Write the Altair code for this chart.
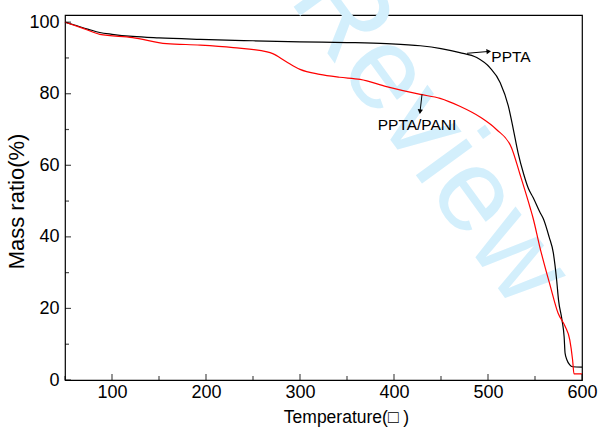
import altair as alt
import pandas as pd

# Thermogravimetric curves: temperature (°C) vs. remaining mass (%)
ppta_temp = [50, 60, 75, 87, 100, 122, 150, 194, 250, 300, 350, 392, 428, 450,
             470, 488, 502, 513, 521.6, 527, 532, 538, 543, 548, 555, 559, 565,
             569.5, 573, 575, 578.7, 581, 582, 584, 587, 590, 600]
ppta_mass = [100, 99.2, 98.0, 97.1, 96.6, 96.0, 95.6, 95.2, 94.8, 94.5, 94.3,
             94.0, 93.4, 92.6, 91.5, 90.1, 87.3, 83.1, 76.6, 70.0, 63.5, 57.5,
             53.5, 51.0, 47.0, 45.0, 40.0, 35.5, 28.0, 22.4, 16.8, 12.0, 7.5,
             5.6, 4.2, 3.7, 3.6]

pani_temp = [50, 70, 87, 122, 158, 194, 229, 265, 271, 285, 300, 321, 342, 364,
             392, 428, 449, 470, 491.5, 509, 525, 534, 545, 548, 555, 566, 574.5,
             582, 587, 590, 591.5, 600]
pani_mass = [100, 98.2, 96.6, 95.7, 94.0, 93.6, 92.9, 91.7, 91.2, 89.0, 86.8,
             85.4, 84.6, 84.0, 82.0, 79.8, 78.7, 76.5, 73.5, 70.0, 64.9, 57.5,
             48.0, 45.2, 37.3, 26.5, 18.7, 15.0, 11.2, 5.6, 1.7, 1.7]

# Axis tick positions
x_major = [100, 200, 300, 400, 500, 600]
x_minor = [50, 150, 250, 350, 450, 550]
y_major = [0, 20, 40, 60, 80, 100]
y_minor = [10, 30, 50, 70, 90]

# Curve labels with their arrows (start -> end, in data units)
label_text = ["PPTA", "PPTA/PANI"]
label_x = [503.5, 424.5]
label_y = [90.4, 71.2]
arrow_x = [477.7, 429.8]
arrow_y = [91.3, 79.8]
arrow_x2 = [500, 427.8]
arrow_y2 = [91.8, 75.2]
arrow_angle = [84, 186]

W, H = 517, 365
FONT = "Liberation Sans"

xs = alt.Scale(domain=[50, 600], nice=False, zero=False)
ys = alt.Scale(domain=[0, 102], nice=False, zero=False)

curves = pd.concat([
    pd.DataFrame({"t": ppta_temp, "m": ppta_mass, "s": "PPTA",
                  "o": range(len(ppta_temp))}),
    pd.DataFrame({"t": pani_temp, "m": pani_mass, "s": "PPTA/PANI",
                  "o": range(len(pani_temp))}),
])

x_axis = alt.Axis(values=x_major, format="d", ticks=False, domain=False,
                  grid=False, labelFontSize=18, labelFont=FONT,
                  labelColor="#000", labelPadding=3, labelFlush=False,
                  titleFontSize=17.5, titleFont=FONT, titleFontWeight="normal",
                  titleColor="#000", titlePadding=7, titleX=281,
                  titleAlign="center")
y_axis = alt.Axis(values=y_major, format="d", ticks=False, domain=False,
                  grid=False, labelFontSize=18, labelFont=FONT,
                  labelColor="#000", labelPadding=6, labelFlush=False,
                  titleFontSize=22, titleFont=FONT, titleFontWeight="normal",
                  titleColor="#000", titlePadding=0, titleY=186,
                  titleAlign="center")

watermark = alt.Chart(pd.DataFrame({"w": ["Review"]})).mark_text(
    font=FONT, fontSize=118, color="#d3effc", angle=54, align="center",
    baseline="middle"
).encode(x=alt.value(365), y=alt.value(120), text="w:N")

lines = alt.Chart(curves).mark_line(strokeWidth=1.2, interpolate="monotone").encode(
    x=alt.X("t:Q", scale=xs, axis=x_axis, title="Temperature(□ )"),
    y=alt.Y("m:Q", scale=ys, axis=y_axis, title="Mass ratio(%)"),
    color=alt.Color("s:N", scale=alt.Scale(domain=["PPTA", "PPTA/PANI"],
                                           range=["#000000", "#ff0000"]),
                    legend=None),
    order="o:Q",
    detail="s:N",
)

xt_major = alt.Chart(pd.DataFrame({"v": x_major})).mark_tick(
    color="#000", size=6, thickness=1.2, orient="vertical"
).encode(x=alt.X("v:Q", scale=xs), y=alt.value(H - 3))
xt_minor = alt.Chart(pd.DataFrame({"v": x_minor})).mark_tick(
    color="#000", size=4, thickness=1.2, orient="vertical"
).encode(x=alt.X("v:Q", scale=xs), y=alt.value(H - 2))
yt_major = alt.Chart(pd.DataFrame({"v": y_major})).mark_tick(
    color="#000", size=6, thickness=1.2, orient="horizontal"
).encode(y=alt.Y("v:Q", scale=ys), x=alt.value(3))
yt_minor = alt.Chart(pd.DataFrame({"v": y_minor})).mark_tick(
    color="#000", size=4, thickness=1.2, orient="horizontal"
).encode(y=alt.Y("v:Q", scale=ys), x=alt.value(2))

ann = pd.DataFrame({"text": label_text, "lx": label_x, "ly": label_y,
                    "ax": arrow_x, "ay": arrow_y,
                    "ax2": arrow_x2, "ay2": arrow_y2, "ang": arrow_angle})

arrow_shaft = alt.Chart(ann).mark_rule(color="#000", strokeWidth=1).encode(
    x=alt.X("ax:Q", scale=xs), y=alt.Y("ay:Q", scale=ys),
    x2="ax2:Q", y2="ay2:Q")
arrow_head = alt.Chart(ann).mark_point(
    shape="triangle", filled=True, color="#000", size=28, opacity=1
).encode(x=alt.X("ax2:Q", scale=xs), y=alt.Y("ay2:Q", scale=ys),
         angle=alt.Angle("ang:Q", scale=None))
labels_ppta = alt.Chart(ann.iloc[[0]]).mark_text(
    font=FONT, fontSize=15.5, color="#000", align="left", baseline="middle"
).encode(x=alt.X("lx:Q", scale=xs), y=alt.Y("ly:Q", scale=ys), text="text:N")
labels_pani = alt.Chart(ann.iloc[[1]]).mark_text(
    font=FONT, fontSize=15.5, color="#000", align="center", baseline="middle"
).encode(x=alt.X("lx:Q", scale=xs), y=alt.Y("ly:Q", scale=ys), text="text:N")

chart = alt.layer(
    watermark, lines, xt_major, xt_minor, yt_major, yt_minor,
    arrow_shaft, arrow_head, labels_ppta, labels_pani
).properties(
    width=W, height=H,
    autosize=alt.AutoSizeParams(type="none"),
    padding={"left": 65, "top": 15, "right": 16, "bottom": 52},
    background="white",
).configure_view(stroke="#000", strokeWidth=1.2)

chart.save("out.html", embed_options={"renderer": "svg", "actions": False})
